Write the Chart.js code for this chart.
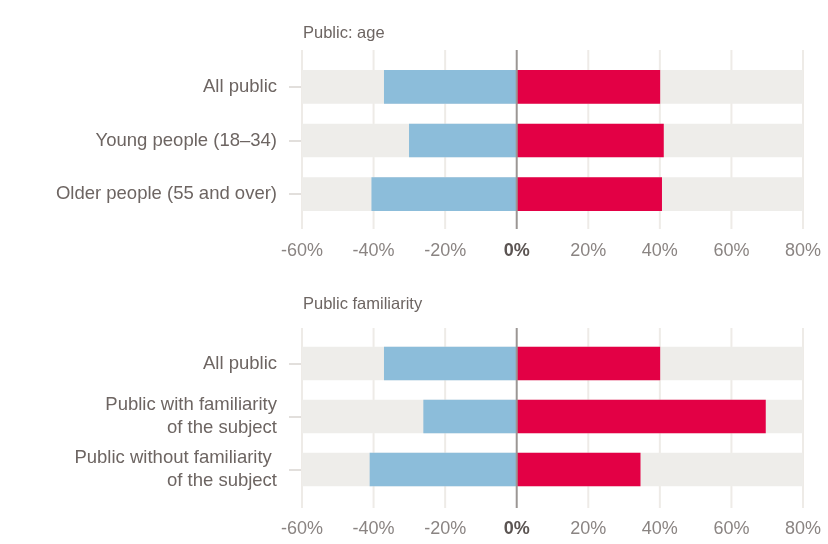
<!DOCTYPE html>
<html>
<head>
<meta charset="utf-8">
<script src="https://cdn.jsdelivr.net/npm/chart.js@4"></script>
<style>
  body { margin: 0; background: #fff; }
  .wrap { position: absolute; left: 0; width: 828px; height: 272px; }
  .title { position: absolute; left: 303px; font: 16.5px 'Liberation Sans', Arial, sans-serif; color: #6d6562; }
</style>
</head>
<body>
<div class="wrap" style="top:0"><canvas id="ageChart"></canvas></div>
<div class="title" style="top:23px">Public: age</div>
<div class="wrap" style="top:272px"><canvas id="famChart"></canvas></div>
<div class="title" style="top:294px">Public familiarity</div>
<script>
const xMin = -60;
const xMax = 80;
const xTicks = [-60, -40, -20, 0, 20, 40, 60, 80];

const ageLabels = ['All public', 'Young people (18–34)', 'Older people (55 and over)'];
const ageDisagree = [-37, -30, -40.5];
const ageAgree = [40, 41, 40.5];

const famLabels = ['All public', ['Public with familiarity', 'of the subject'], ['Public without familiarity ', 'of the subject']];
const famDisagree = [-37, -26, -41];
const famAgree = [40, 69.5, 34.5];

const font = "'Liberation Sans', Arial, sans-serif";
const isZero = c => c.tick && c.tick.value === 0;

// light vertical grid lines that run a bit past the bars, and the darker zero line on top
const gridLines = {
    id: 'gridLines',
    beforeDatasetsDraw(chart, args, opts) {
        const {ctx, chartArea, scales: {x}} = chart;
        ctx.save();
        ctx.strokeStyle = '#eeebe7';
        ctx.lineWidth = 2;
        x.ticks.forEach(t => {
            if (t.value === 0) return;
            const px = x.getPixelForValue(t.value);
            ctx.beginPath();
            ctx.moveTo(px, chartArea.top - opts.up);
            ctx.lineTo(px, chartArea.bottom + opts.down);
            ctx.stroke();
        });
        ctx.restore();
    },
    afterDatasetsDraw(chart, args, opts) {
        const {ctx, chartArea, scales: {x}} = chart;
        const px = x.getPixelForValue(0);
        ctx.save();
        ctx.strokeStyle = '#9b9694';
        ctx.lineWidth = 2;
        ctx.beginPath();
        ctx.moveTo(px, chartArea.top - opts.up);
        ctx.lineTo(px, chartArea.bottom + opts.down);
        ctx.stroke();
        ctx.restore();
    }
};

function makeChart(id, labels, disagree, agree, cfg) {
    return new Chart(document.getElementById(id), {
        type: 'bar',
        data: {
            labels: labels,
            datasets: [{
                data: labels.map(() => [xMin, xMax]),
                backgroundColor: '#eeedea',
                grouped: false,
                order: 3
            }, {
                data: disagree,
                backgroundColor: '#8cbdda',
                grouped: false,
                order: 1
            }, {
                data: agree,
                backgroundColor: '#e30045',
                grouped: false,
                order: 1
            }]
        },
        options: {
            indexAxis: 'y',
            responsive: true,
            maintainAspectRatio: false,
            animation: false,
            datasets: { bar: { barThickness: 33, categoryPercentage: 1 } },
            layout: { padding: { top: cfg.top, right: 25, bottom: 0, left: 0 } },
            plugins: {
                legend: { display: false },
                tooltip: { enabled: false },
                gridLines: { up: cfg.up, down: cfg.down }
            },
            scales: {
                x: {
                    min: xMin,
                    max: xMax,
                    afterBuildTicks: s => { s.ticks = xTicks.map(v => ({ value: v })); },
                    afterFit: s => { s.height = cfg.xHeight; },
                    // tick marks are hidden; their length only pushes the labels down
                    grid: { display: false, drawTicks: true, tickLength: cfg.labelPad },
                    border: { display: false },
                    ticks: {
                        padding: 0,
                        callback: v => v + '%',
                        color: c => isZero(c) ? '#5b5452' : '#8a8482',
                        font: c => ({ family: font, size: 18, weight: isZero(c) ? 'bold' : 'normal' })
                    }
                },
                y: {
                    afterFit: s => { s.width = 302; },
                    grid: { drawOnChartArea: false, offset: false, tickLength: 13, color: '#e2dfdc', lineWidth: 2 },
                    border: { display: false },
                    ticks: {
                        padding: 12,
                        color: '#6d6562',
                        font: { family: font, size: 18.5, lineHeight: 1.2 }
                    }
                }
            }
        },
        plugins: [gridLines]
    });
}

makeChart('ageChart', ageLabels, ageDisagree, ageAgree, { top: 60, xHeight: 51, labelPad: 19, up: 10, down: 8 });
makeChart('famChart', famLabels, famDisagree, famAgree, { top: 65, xHeight: 48, labelPad: 22, up: 9, down: 12 });
</script>
</body>
</html>
